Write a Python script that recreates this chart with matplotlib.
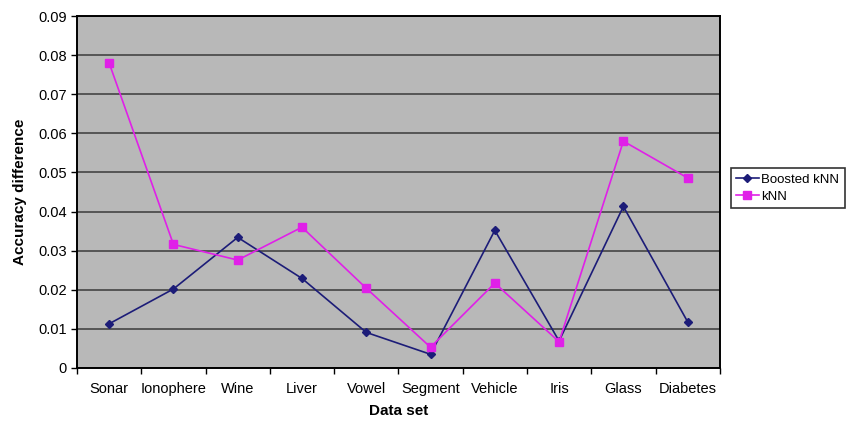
import matplotlib
matplotlib.use("Agg")
import matplotlib.pyplot as plt
import numpy as np

plt.rcParams['font.family'] = ['Liberation Sans', 'DejaVu Sans']

categories = ["Sonar", "Ionophere", "Wine", "Liver", "Vowel", "Segment",
              "Vehicle", "Iris", "Glass", "Diabetes"]
boosted_knn = [0.0113, 0.0202, 0.0334, 0.0229, 0.0091, 0.0035,
               0.0352, 0.0069, 0.0413, 0.0118]
knn = [0.0780, 0.0316, 0.0276, 0.0360, 0.0204, 0.0053,
       0.0217, 0.0067, 0.0580, 0.0486]
yticks = [0, 0.01, 0.02, 0.03, 0.04, 0.05, 0.06, 0.07, 0.08, 0.09]
ytick_labels = ["0", "0.01", "0.02", "0.03", "0.04", "0.05", "0.06", "0.07", "0.08", "0.09"]

fig = plt.figure(figsize=(8.48, 4.22), dpi=100)
ax = fig.add_axes([0.0908, 0.128, 0.758, 0.834])
ax.set_facecolor("#b8b8b8")

x = np.arange(len(categories))
ax.plot(x, boosted_knn, color="#1c1c78", marker="D", markersize=4.5, lw=1.2,
        label="Boosted kNN")
ax.plot(x, knn, color="#e020e8", marker="s", markersize=5.5, lw=1.2,
        label="kNN")

ax.set_xlim(-0.5, len(categories) - 0.5)
ax.set_ylim(0, 0.09)
ax.set_yticks(yticks)
ax.set_yticklabels(ytick_labels, fontsize=10.5)
ax.set_xticks(x)
ax.set_xticklabels(categories, fontsize=10.5)
ax.tick_params(axis='x', length=0, pad=10)
ax.set_xticks(np.arange(-0.5, len(categories), 1), minor=True)
ax.tick_params(axis='x', which='minor', length=4, width=1, direction='out')
ax.tick_params(axis='y', length=4, width=1, direction='out')
ax.yaxis.grid(True, color="#444444", lw=1.2)
ax.set_axisbelow(True)
for s in ax.spines.values():
    s.set_color("black")
    s.set_linewidth(1.4)

ax.set_xlabel("Data set", fontsize=11, fontweight="bold", labelpad=6)
ax.set_ylabel("Accuracy difference", fontsize=11, fontweight="bold", labelpad=8)

leg = fig.legend(loc="upper left", bbox_to_anchor=(731 / 848, 1 - 168 / 422),
                 fontsize=9.5, frameon=True, fancybox=False, edgecolor="black",
                 handlelength=1.7, borderpad=0.4, labelspacing=0.4,
                 handletextpad=0.2, borderaxespad=0)
leg.get_frame().set_linewidth(1.2)

fig.savefig("out.png", dpi=100)
